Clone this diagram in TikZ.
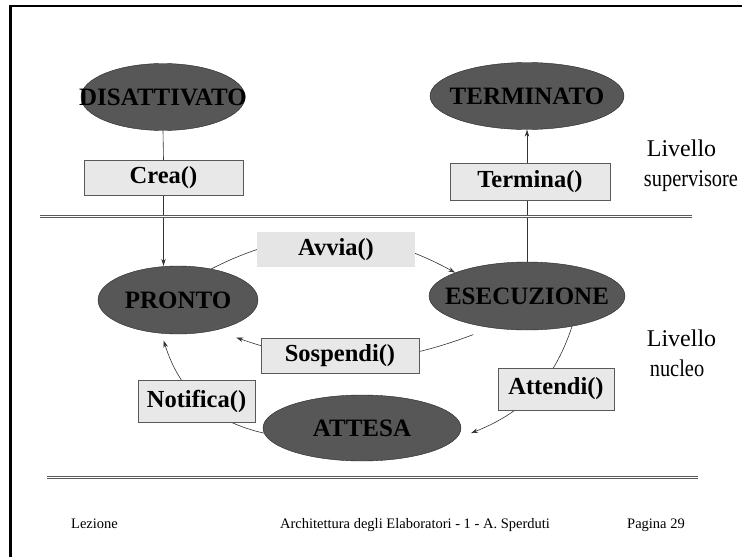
\documentclass[tikz,border=0pt]{standalone}
\usepackage{fontspec}
\setmainfont{Liberation Serif}
\usetikzlibrary{shapes.geometric,arrows.meta,backgrounds}

\begin{document}
\begin{tikzpicture}[x=1pt,y=-1pt,
  stato/.style={ellipse,draw=black!85,fill=black!66,inner sep=0pt,
    font=\fontsize{25}{30}\selectfont\bfseries},
  metodo/.style={rectangle,draw=black!65,fill=black!9,inner sep=0pt,
    font=\fontsize{24.5}{29}\selectfont\bfseries},
  livello/.style={anchor=base,inner sep=0pt,font=\fontsize{24}{29}\selectfont},
  piede/.style={anchor=base,inner sep=0pt,font=\fontsize{14.5}{17}\selectfont},
  linea/.style={draw=black!80,line width=0.6pt},
  freccia/.style={linea,-{Stealth[length=7pt,width=4.5pt]}},
  separa/.style={draw=black!65,double=white,double distance=1.6pt,line width=0.7pt}]
\useasboundingbox (0,0) rectangle (742,557);
\draw[line width=2.5pt] (10.5,557) -- (10.5,6.2) -- (742,6.2);
\draw[separa] (40,216.5) -- (692,216.5);
\draw[separa] (47,477.5) -- (698,477.5);
% stati
\node[stato,minimum width=164pt,minimum height=67pt] (disatt) at (163,97) {\makebox[0pt]{DISATTIVATO}};
\node[stato,minimum width=194pt,minimum height=67pt] (term) at (527,96) {\makebox[0pt]{TERMINATO}};
\node[stato,minimum width=160pt,minimum height=68pt] (pronto) at (178,300) {\makebox[0pt]{PRONTO}};
\node[stato,minimum width=196pt,minimum height=68pt] (esec) at (527,296) {\makebox[0pt]{ESECUZIONE}};
\node[stato,minimum width=198pt,minimum height=66pt] (attesa) at (362,428) {\makebox[0pt]{ATTESA}};
% metodi
\node[metodo,minimum width=159pt,minimum height=35pt] (crea) at (163.5,177.5) {Crea()};
\node[metodo,minimum width=160pt,minimum height=37pt] (termina) at (530,181.5) {Termina()};
\node[metodo,draw=none,fill=black!10,minimum width=158pt,minimum height=35pt] (avvia) at (336,249.5) {Avvia()};
\node[metodo,minimum width=158pt,minimum height=35pt] (sospendi) at (340,355.5) {Sospendi()};
\node[metodo,minimum width=117pt,minimum height=42pt] (notifica) at (196.5,401) {Notifica()};
\node[metodo,minimum width=116pt,minimum height=42pt] (attendi) at (556,389) {Attendi()};
% livelli
\node[livello] (liv1) at (681.5,156) {Livello};
\node[livello] (sup) at (691,186) {\scalebox{0.85}[1]{supervisore}};
\node[livello] (liv2) at (681.5,346) {Livello};
\node[livello] (nucleo) at (677,376) {\scalebox{0.85}[1]{nucleo}};
% piede
\node[piede] (lezione) at (94.5,528) {Lezione};
\node[piede] (corso) at (415,528) {Architettura degli Elaboratori - 1 - A. Sperduti};
\node[piede] (pagina) at (656,528) {Pagina 29};
\begin{scope}[on background layer]
\draw[linea] (disatt.south) -- (crea.north);
\draw[freccia] (crea.south) -- (crea.south |- pronto.north);
\draw[linea] (esec.north) -- (esec.north |- termina.south);
\draw[freccia] (term.south |- termina.north) -- (term.south);
\draw[freccia] (pronto.43) to[bend left=28] (esec.162);
\draw[freccia] ([yshift=-10pt]esec.208) to[bend left=20] ([yshift=-14pt]pronto.-22);
\draw[freccia] (esec.-34) to[bend left=25] ([xshift=11pt]attesa.-3);
\draw[freccia] (attesa.183) to[bend left=30] ([yshift=-7pt]pronto.247);
\end{scope}
\end{tikzpicture}
\end{document}
